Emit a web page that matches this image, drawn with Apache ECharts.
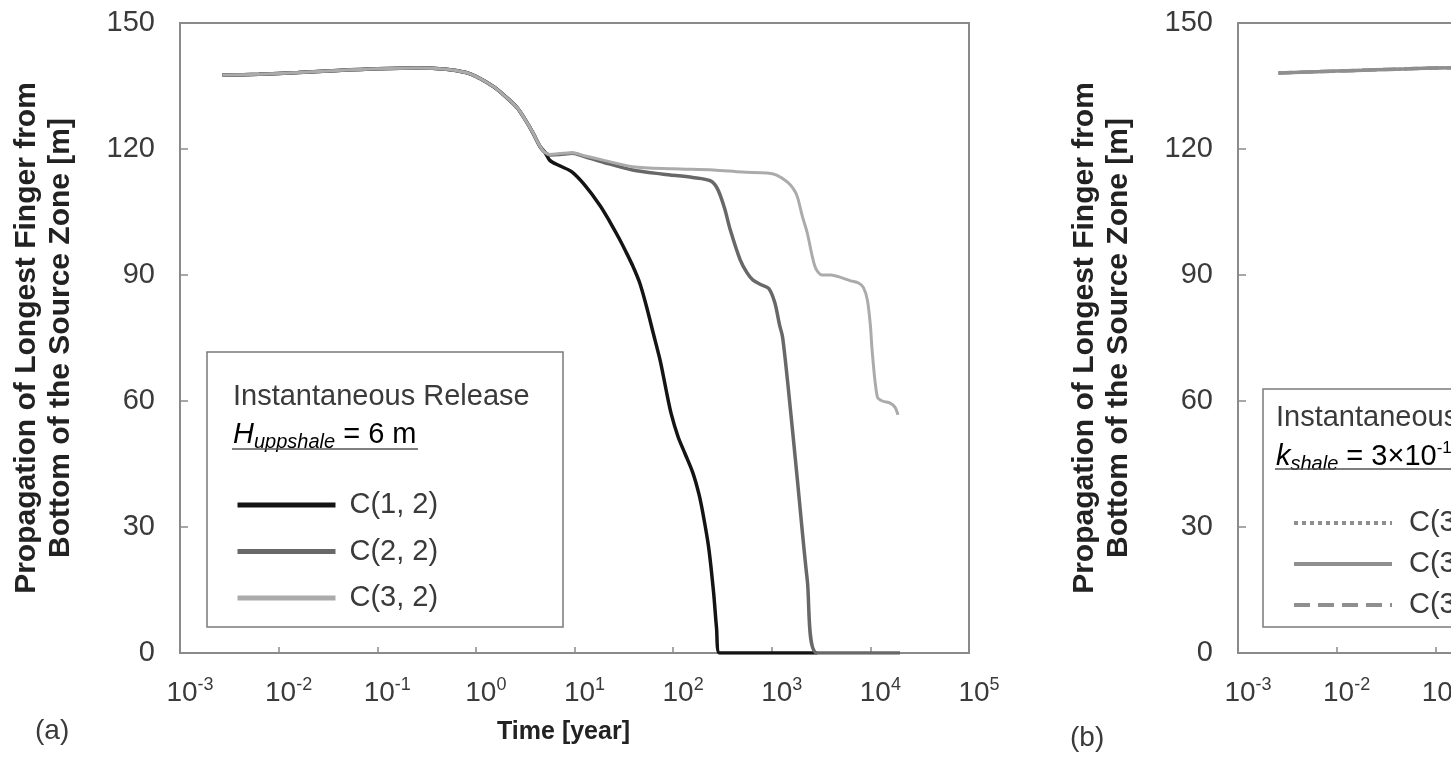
<!DOCTYPE html>
<html><head><meta charset="utf-8">
<script src="https://cdn.jsdelivr.net/npm/echarts@6/dist/echarts.min.js"></script>
<style>html,body{margin:0;padding:0;background:#fff;overflow:hidden}#c{width:1451px;height:758px}</style>
</head><body><div id="c"></div>
<script>
// ---------- data (time given as log10 of years, value in m) ----------
const xTickExponents = [-3, -2, -1, 0, 1, 2, 3, 4, 5];
const yTicks = [0, 30, 60, 90, 120, 150];
const namesA = ['C(1, 2)', 'C(2, 2)', 'C(3, 2)'];
const namesB = ['C(3, 2) i', 'C(3, 2) ii', 'C(3, 2) iii'];

const earlyCommon = [[-2.57,137.6],[-2.2,137.8],[-1.8,138.2],[-1.4,138.7],[-1.0,139.1],[-0.6,139.3],[-0.3,139.0],[-0.1,138.2],[0.0,137.3],[0.1,136.0],[0.2,134.5],[0.3,132.5],[0.42,129.8],[0.5,127.0],[0.58,123.8],[0.65,120.6],[0.7,119.2]];

const c12Late = [[0.75,117.3],[0.85,116.0],[0.97,114.6],[1.1,111.5],[1.26,106.5],[1.36,102.6],[1.45,98.8],[1.52,95.6],[1.59,92.2],[1.66,88.2],[1.73,82.5],[1.8,76.0],[1.87,69.5],[1.93,62.5],[1.98,57.0],[2.05,51.5],[2.12,47.5],[2.2,42.9],[2.26,38.0],[2.3,33.5],[2.36,25.2],[2.41,14.5],[2.44,6.0],[2.47,0],[3.46,0]];
const c22Late = [[0.75,118.6],[0.85,118.7],[0.98,119.0],[1.1,118.2],[1.3,116.8],[1.59,115.0],[1.9,114.0],[2.2,113.2],[2.38,112.4],[2.45,110.5],[2.52,106.0],[2.58,100.7],[2.68,93.6],[2.75,90.5],[2.81,88.8],[2.9,87.6],[2.97,86.8],[3.03,83.5],[3.08,78.0],[3.11,75.2],[3.17,62.5],[3.26,41.2],[3.36,17.4],[3.46,0],[4.3,0]];
const c32Late = [[0.75,118.7],[0.85,118.9],[0.98,119.1],[1.1,118.4],[1.3,117.3],[1.59,115.8],[2.0,115.3],[2.41,115.0],[2.7,114.5],[2.95,114.3],[3.05,113.8],[3.16,112.1],[3.22,110.5],[3.26,108.6],[3.31,104.0],[3.36,100.0],[3.44,91.9],[3.51,90.0],[3.6,90.0],[3.69,89.5],[3.8,88.6],[3.88,88.1],[3.93,87.0],[3.97,84.0],[4.0,78.0],[4.02,71.4],[4.07,61.0],[4.12,60.0],[4.2,59.5],[4.25,58.5],[4.28,56.7]];

const panelBEarly = [[-2.59,138.1],[-2.2,138.4],[-1.8,138.7],[-1.4,139.0],[-1.0,139.3],[-0.6,139.4]];

// ---------- helpers ----------
const FONT = '"Liberation Sans", Arial, Helvetica, sans-serif';
const TXT = '#3a3a3a';
const AXC = '#8a8a8a';
const toPts = arr => arr.map(p => [Math.pow(10, p[0]), p[1]]);

function xAxisCfg(gi, withName) {
  return {
    type: 'log', logBase: 10, gridIndex: gi,
    min: Math.pow(10, xTickExponents[0]), max: Math.pow(10, xTickExponents[xTickExponents.length - 1]),
    interval: 1,
    axisLine: { show: true, lineStyle: { color: AXC, width: 2 } },
    axisTick: { show: true, inside: true, length: 6, lineStyle: { color: AXC, width: 1.5 } },
    minorTick: { show: false }, splitLine: { show: false },
    axisLabel: {
      margin: 23, padding: [0, 0, 0, 20], fontFamily: FONT, color: TXT,
      formatter: v => '{b|10}{s|' + Math.round(Math.log10(v)) + '}',
      rich: {
        b: { fontSize: 28, lineHeight: 34, fontFamily: FONT, color: TXT },
        s: { fontSize: 18, lineHeight: 22, verticalAlign: 'top', fontFamily: FONT, color: TXT }
      }
    },
    name: withName ? 'Time [year]' : '', nameLocation: 'middle', nameGap: 64,
    nameTextStyle: { fontFamily: FONT, fontSize: 25, fontWeight: 'bold', color: '#222', lineHeight: 30, padding: [0, 22, 0, 0] }
  };
}
function yAxisCfg(gi) {
  return {
    type: 'value', gridIndex: gi, min: yTicks[0], max: yTicks[yTicks.length - 1], interval: yTicks[1] - yTicks[0],
    axisLine: { show: true, lineStyle: { color: AXC, width: 2 } },
    axisTick: { show: true, inside: true, length: 8, lineStyle: { color: AXC, width: 1.5 } },
    splitLine: { show: false },
    axisLabel: { margin: 25, fontFamily: FONT, fontSize: 29, color: TXT },
    name: 'Propagation of Longest Finger from\nBottom of the Source Zone [m]',
    nameLocation: 'middle', nameGap: 102,
    nameTextStyle: { fontFamily: FONT, fontSize: 30, fontWeight: 'bold', color: '#222', lineHeight: 34 }
  };
}

const seriesA = [
  { name: namesA[0], data: toPts(earlyCommon.concat(c12Late)), color: '#141414', width: 3.5 },
  { name: namesA[1], data: toPts(earlyCommon.concat(c22Late)), color: '#686868', width: 3.5 },
  { name: namesA[2], data: toPts(earlyCommon.concat(c32Late)), color: '#ababab', width: 3 }
].map(s => ({
  type: 'line', name: s.name, xAxisIndex: 0, yAxisIndex: 0, data: s.data,
  symbol: 'none', showSymbol: false, smooth: 0.3, color: s.color,
  lineStyle: { color: s.color, width: s.width }
}));
const seriesB = [
  { name: namesB[0], type: 'dotted', width: 3 },
  { name: namesB[1], type: 'solid', width: 3.5 },
  { name: namesB[2], type: 'dashed', width: 3.5 }
].map(s => ({
  type: 'line', name: s.name, xAxisIndex: 1, yAxisIndex: 1, data: toPts(panelBEarly),
  symbol: 'none', showSymbol: false, smooth: 0.3, color: '#8f8f8f',
  lineStyle: { color: '#8f8f8f', width: s.width, type: s.type }
}));

const subStyle = { fontSize: 20, fontStyle: 'italic', lineHeight: 20, verticalAlign: 'bottom', fontFamily: FONT, color: TXT };
const chart = echarts.init(document.getElementById('c'), null, { renderer: 'canvas' });
chart.setOption({
  backgroundColor: '#fff',
  animation: false,
  grid: [
    { left: 180, top: 23, width: 789, height: 630, show: true, borderColor: AXC, borderWidth: 2, backgroundColor: 'transparent', outerBoundsMode: 'none' },
    { left: 1238, top: 23, width: 789, height: 630, show: true, borderColor: AXC, borderWidth: 2, backgroundColor: 'transparent', outerBoundsMode: 'none' }
  ],
  xAxis: [xAxisCfg(0, true), xAxisCfg(1, true)],
  yAxis: [yAxisCfg(0), yAxisCfg(1)],
  legend: [
    { data: namesA, orient: 'vertical', left: 230, top: 485, itemWidth: 98, itemHeight: 30, itemGap: 16.5,
      itemStyle: { opacity: 0 }, lineStyle: { width: 5 },
      textStyle: { fontFamily: FONT, fontSize: 29, color: TXT, lineHeight: 30, padding: [0, 0, 0, 9] }, z: 6 },
    { data: namesB, orient: 'vertical', left: 1287, top: 503, itemWidth: 98, itemHeight: 30, itemGap: 11,
      itemStyle: { opacity: 0 }, lineStyle: { width: 4 },
      formatter: n => n.replace(/ i+$/, ''),
      textStyle: { fontFamily: FONT, fontSize: 29, color: TXT, lineHeight: 30, padding: [0, 0, 0, 12] }, z: 6 }
  ],
  graphic: [
    { type: 'rect', shape: { x: 207, y: 352, width: 356, height: 275 }, style: { fill: '#fff', stroke: '#7a7a7a', lineWidth: 1.5 }, z: 3 },
    { type: 'text', x: 233, y: 397, style: { text: 'Instantaneous Release', font: '29px ' + FONT, fill: TXT, verticalAlign: 'middle' }, z: 5 },
    { type: 'text', x: 233, y: 435, style: {
        text: '{i|H}{s|uppshale}{n| = 6 m}', verticalAlign: 'middle',
        rich: { i: { fontSize: 29, fontStyle: 'italic', lineHeight: 34, fontFamily: FONT, color: TXT },
                s: subStyle,
                n: { fontSize: 29, lineHeight: 34, fontFamily: FONT, color: TXT } } }, z: 5 },
    { type: 'line', shape: { x1: 232, y1: 449, x2: 418, y2: 449 }, style: { stroke: '#555', lineWidth: 1.5 }, z: 5 },

    { type: 'rect', shape: { x: 1263, y: 389, width: 400, height: 238 }, style: { fill: '#fff', stroke: '#7a7a7a', lineWidth: 1.5 }, z: 3 },
    { type: 'text', x: 1276, y: 418, style: { text: 'Instantaneous Release', font: '29px ' + FONT, fill: TXT, verticalAlign: 'middle' }, z: 5 },
    { type: 'text', x: 1276, y: 457, style: {
        text: '{i|k}{s|shale}{n| = 3×10}{p|-18}{n| m}{p|2}', verticalAlign: 'middle',
        rich: { i: { fontSize: 29, fontStyle: 'italic', lineHeight: 34, fontFamily: FONT, color: TXT },
                s: subStyle,
                p: { fontSize: 17, lineHeight: 18, verticalAlign: 'top', fontFamily: FONT, color: TXT },
                n: { fontSize: 29, lineHeight: 34, fontFamily: FONT, color: TXT } } }, z: 5 },
    { type: 'line', shape: { x1: 1275, y1: 469, x2: 1500, y2: 469 }, style: { stroke: '#555', lineWidth: 1.5 }, z: 5 },

    { type: 'text', x: 35, y: 731, style: { text: '(a)', font: '28px ' + FONT, fill: TXT, verticalAlign: 'middle' } },
    { type: 'text', x: 1070, y: 738, style: { text: '(b)', font: '28px ' + FONT, fill: TXT, verticalAlign: 'middle' } }
  ],
  series: seriesA.concat(seriesB)
});
</script>
</body></html>
